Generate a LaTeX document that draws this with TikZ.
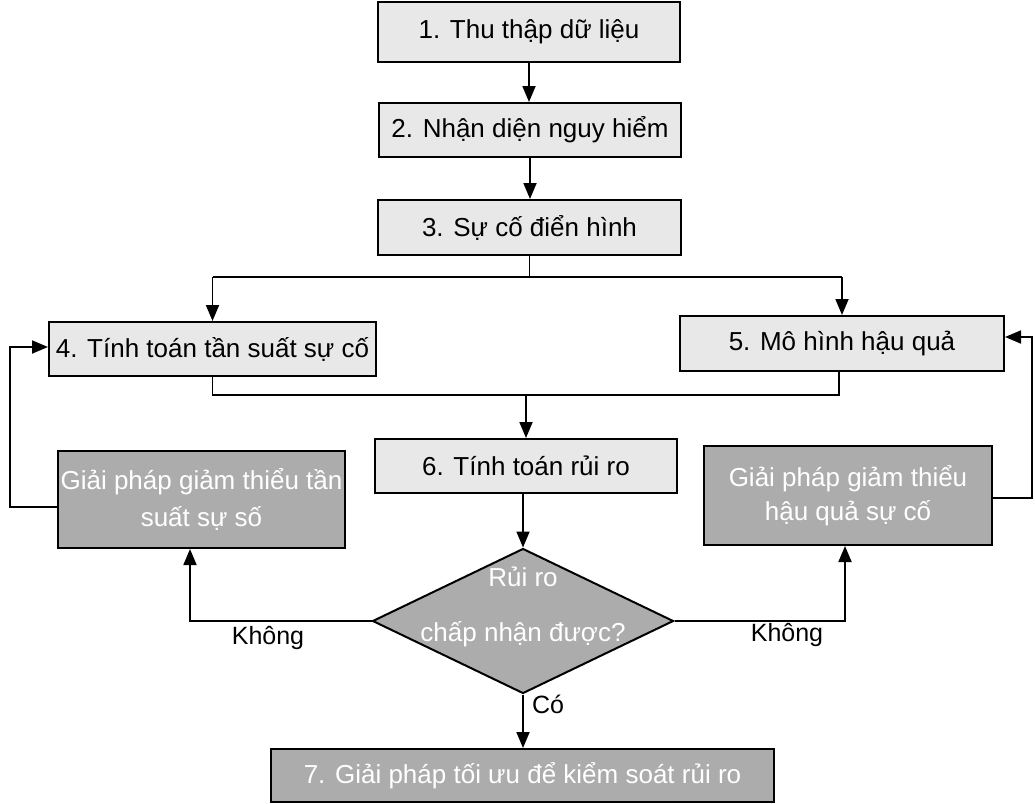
\documentclass[tikz,border=0pt]{standalone}
\usepackage{fontspec}
\setmainfont{Liberation Sans}
\usetikzlibrary{arrows.meta,shapes.geometric}
\begin{document}
\begin{tikzpicture}[x=1pt,y=-1pt,
  lbox/.style={draw=black,line width=2pt,fill=gray!18,minimum height=54pt,inner sep=0pt,font=\fontsize{26}{30}\selectfont},
  dbox/.style={draw=black,line width=2pt,fill=gray!65,text=white,align=center,inner sep=0pt,font=\fontsize{26}{30}\selectfont},
  conn/.style={line width=1.8pt},
  arr/.style={conn,-{Triangle[length=16pt,width=13pt]}},
  lab/.style={font=\fontsize{25}{30}\selectfont,inner sep=0pt}
]
\useasboundingbox (0,0) rectangle (1035,803);
\node[lbox,minimum width=302pt,minimum height=60pt] (n1) at (529,32) {1. Thu thập dữ liệu};
\node[lbox,minimum width=302pt] (n2) at (530,130) {2. Nhận diện nguy hiểm};
\node[lbox,minimum width=303pt,minimum height=55pt] (n3) at (529.5,227.5) {3. Sự cố điển hình};
\node[lbox,minimum width=327pt] (n4) at (212.5,349) {4. Tính toán tần suất sự cố};
\node[lbox,minimum width=324pt,minimum height=55pt] (n5) at (842,343.5) {5. Mô hình hậu quả};
\node[lbox,minimum width=302pt] (n6) at (526,466) {6. Tính toán rủi ro};
\node[dbox,minimum width=287pt,minimum height=97pt] (m4) at (201.5,499.5) {Giải pháp giảm thiểu tần\\[7pt]suất sự số};
\node[dbox,minimum width=288pt,minimum height=99pt] (m5) at (848,495.5) {Giải pháp giảm thiểu\\[4pt]hậu quả sự cố};
\node[diamond,draw=black,line width=2pt,fill=gray!65,minimum width=301pt,minimum height=145pt,inner sep=0pt] (d) at (523,621) {};
\node[dbox,draw=none,fill=none] (dt) at (523,607) {Rủi ro\\[25pt]chấp nhận được?};
\node[dbox,minimum width=503pt,minimum height=53pt] (n7) at (522.5,775.5) {7. Giải pháp tối ưu để kiểm soát rủi ro};
% connectors
\draw[arr] (n1.south) -- (n1.south |- n2.north);
\draw[arr] (n2.south) -- (n2.south |- n3.north);
\coordinate (sp) at (527,277);
\draw[conn] (n3.south |- n3.south) -- (n3.south |- sp);
\draw[conn] (n4.north |- sp) -- (n5.north |- sp);
\draw[arr] (n4.north |- sp) -- (n4.north);
\draw[arr] (n5.north |- sp) -- (n5.north);
\coordinate (mg) at (526,395);
\draw[conn] (n4.south) -- (n4.south |- mg) -- ([xshift=-3pt]n5.south |- mg) -- ([xshift=-3pt]n5.south);
\draw[arr] (n6.north |- mg) -- (n6.north);
\draw[arr] (d.north |- n6.south) -- (d.north);
\draw[arr] (d.west) -| ([xshift=-11.5pt]m4.south);
\draw[arr] (d.east) -| ([xshift=-3pt]m5.south);
\draw[arr] (d.south) -- (d.south |- n7.north);
\coordinate (fl) at (10,507);
\draw[arr] (m4.west |- fl) -- (fl) |- ([yshift=2pt]n4.west);
\coordinate (fr) at (1032,498);
\draw[arr] (m5.east |- fr) -- (fr) |- ([yshift=6.5pt]n5.east);
% labels
\node[lab] (k1) at (268,638) {Không};
\node[lab] (k2) at (787,635) {Không};
\node[lab] (co) at (548,704) {Có};
\end{tikzpicture}
\end{document}
